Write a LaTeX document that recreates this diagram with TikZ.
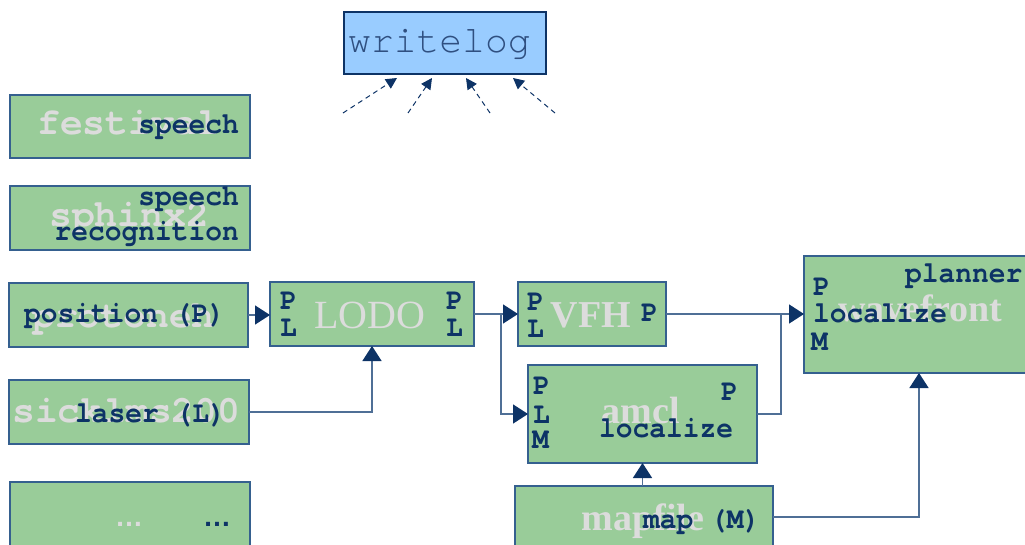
\documentclass[tikz,border=0pt]{standalone}
\usepackage{fontspec}
\setmainfont{Liberation Serif}
\newfontfamily\monof{texgyrecursor}[Extension=.otf, UprightFont=*-regular,
  BoldFont=*-bold, FakeStretch=0.93]
\newfontfamily\monog{texgyrecursor}[Extension=.otf, UprightFont=*-regular,
  BoldFont=*-bold]
\newfontfamily\sansf{Liberation Sans}
\usetikzlibrary{arrows.meta}

\definecolor{boxgreen}{HTML}{99CC99}
\definecolor{boxblue}{HTML}{99CCFF}
\definecolor{edge}{HTML}{35608F}
\definecolor{wire}{HTML}{4F6F96}
\definecolor{navy}{HTML}{0D3366}
\definecolor{ghost}{HTML}{DCDCDC}
\definecolor{logtext}{HTML}{2F4F80}

\tikzset{
  box/.style={draw=edge, fill=boxgreen, line width=1.4pt, inner sep=0pt,
    outer sep=0pt, anchor=north west},
  logbox/.style={box, fill=boxblue, draw=navy},
  lbl/.style={text=navy, inner sep=0pt, anchor=base west,
    font=\monof\bfseries\fontsize{30}{32}\selectfont},
  lblr/.style={lbl, anchor=base east},
  ghostm/.style={text=ghost, inner sep=0pt, anchor=base west,
    font=\monog\bfseries\fontsize{38}{40}\selectfont},
  ghostr/.style={text=ghost, inner sep=0pt, anchor=base,
    font=\fontsize{40}{42}\selectfont},
  ghostb/.style={ghostr, font=\bfseries\fontsize{38}{40}\selectfont},
  conn/.style={draw=wire, line width=1.5pt,
    -{Triangle[length=15pt,width=19pt,color=navy]}},
  plain/.style={draw=wire, line width=1.5pt},
  logarrow/.style={draw=navy, line width=1pt, dash pattern=on 5pt off 4pt,
    -{Triangle[length=11pt,width=11pt]}},
}

\begin{document}
\begin{tikzpicture}[x=1pt, y=-1pt]
\useasboundingbox (0,0) rectangle (1025,545);
\clip (0,0) rectangle (1025,545);

% ---- logger ----
\node[logbox, minimum width=202pt, minimum height=62pt] (wl) at (344,12) {};
\node[text=logtext, inner sep=0pt, anchor=base west,
  font=\monog\fontsize{38}{40}\selectfont] (wltxt) at (348,53) {writelog};

% ---- device and driver boxes ----
\node[box, minimum width=240pt, minimum height=63pt] (fest)  at (10,95)  {};
\node[box, minimum width=240pt, minimum height=64pt] (sphx)  at (10,186) {};
\node[box, minimum width=239pt, minimum height=64pt] (pos)   at (9,283)  {};
\node[box, minimum width=240pt, minimum height=64pt] (laser) at (9,380)  {};
\node[box, minimum width=240pt, minimum height=66pt] (dots)  at (10,482) {};
\node[box, minimum width=204pt, minimum height=64pt] (lodo)  at (270,282) {};
\node[box, minimum width=148pt, minimum height=64pt] (vfh)   at (518,282) {};
\node[box, minimum width=229pt, minimum height=98pt] (amcl)  at (528,365) {};
\node[box, minimum width=230pt, minimum height=117pt] (wave) at (804,256) {};
\node[box, minimum width=258pt, minimum height=62pt] (mapf)  at (515,486) {};

% ---- driver names ----
\node[ghostm] (g1) at (37,135)  {festival};
\node[ghostm] (g2) at (49,227)  {sphinx2};
\node[ghostm] (g3) at (32,327)  {protoneh};
\node[ghostm] (g4) at (12,422)  {sicklms200};
\node[text=ghost, inner sep=0pt, anchor=base west,
  font=\sansf\bfseries\fontsize{28}{30}\selectfont] (g5) at (115,526) {…};
\node[ghostr] (g6) at (370,328) {LODO};
\node[ghostb] (g7) at (591,327) {VFH};
\node[ghostb] (g8) at (641,423) {amcl};
\node[ghostb] (g9) at (920,321) {wavefront};
\node[ghostb] (g10) at (643,530) {mapfile};

% ---- interface labels ----
\node[lblr] (t1) at (239,134) {speech};
\node[lblr] (t2) at (239,206) {speech};
\node[lblr] (t3) at (239,241) {recognition};
\node[lbl] (t4) at (24,322) {position (P)};
\node[lbl] (t5) at (75,422) {laser (L)};
\node[text=navy, inner sep=0pt, anchor=base west,
  font=\sansf\bfseries\fontsize{28}{30}\selectfont] (t6) at (203,526) {…};

\node[lbl] (lp1) at (280,309) {P};
\node[lbl] (lp2) at (280,336) {L};
\node[lbl] (lp3) at (446,309) {P};
\node[lbl] (lp4) at (446,336) {L};

\node[lbl] (vp1) at (527,310) {P};
\node[lbl] (vp2) at (527,337) {L};
\node[lbl] (vp3) at (641,321) {P};

\node[lbl] (ap1) at (533,394) {P};
\node[lbl] (ap2) at (533,423) {L};
\node[lbl] (ap3) at (532,448) {M};
\node[lbl] (ap4) at (721,400) {P};
\node[lbl] (ap5) at (599,437) {localize};

\node[lbl] (wp1) at (905,283) {planner};
\node[lbl] (wp2) at (813,295) {P};
\node[lbl] (wp3) at (813,323) {localize};
\node[lbl] (wp4) at (811,350) {M};

\node[lbl] (mp1) at (643,528) {map (M)};

% ---- data flow ----
\coordinate (split) at (501,315);
\coordinate (merge) at (781,315);
\draw[conn] (pos.east) -- (pos.east -| lodo.west);
\draw[conn] (laser.east) -| (lodo.south);
\draw[conn] (lodo.east) -- (lodo.east -| vfh.west);
\draw[conn] (split) |- (amcl.west);
\draw[conn] (vfh.east) -- (vfh.east -| wave.west);
\draw[plain] (amcl.east) -| (merge);
\draw[conn] (mapf.north -| amcl.south) -- (amcl.south);
\draw[conn] (mapf.east) -| (wave.south);

% ---- log feeds ----
\coordinate (f1) at (343,113);
\coordinate (f2) at (408,113);
\coordinate (f3) at (490,113);
\coordinate (f4) at (555,113);
\draw[logarrow] (f1) -- ([xshift=53pt,yshift=-4pt]wl.south west);
\draw[logarrow] (f2) -- ([xshift=88pt,yshift=-4pt]wl.south west);
\draw[logarrow] (f3) -- ([xshift=122pt,yshift=-4pt]wl.south west);
\draw[logarrow] (f4) -- ([xshift=169pt,yshift=-4pt]wl.south west);
\end{tikzpicture}
\end{document}
